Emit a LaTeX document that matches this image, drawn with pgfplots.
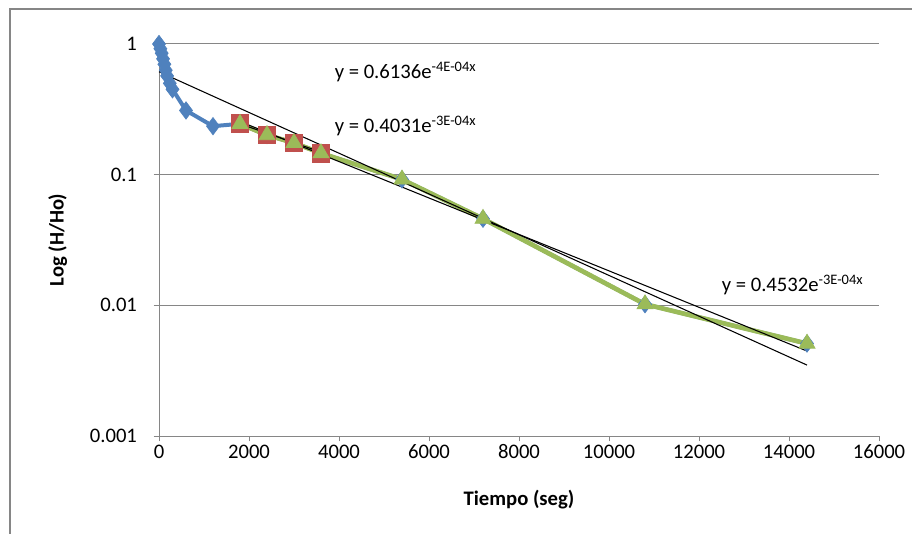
\documentclass[border=0pt]{standalone}
\usepackage{fontspec}
\setmainfont{Carlito}
\usepackage{pgfplots}
\pgfplotsset{compat=1.18}
\definecolor{xlblue}{RGB}{79,129,189}
\definecolor{xlred}{RGB}{192,80,77}
\definecolor{xlgreen}{RGB}{155,187,89}
\definecolor{axgray}{RGB}{134,134,134}
\begin{document}
\begin{tikzpicture}
\useasboundingbox (-119.25pt,-73.5pt) rectangle (564.75pt,327pt);
\draw[axgray, line width=0.9pt] (-111.75pt,-90pt) -- (-111.75pt,320.25pt) -- (600pt,320.25pt);
\begin{axis}[
  at={(0pt,0pt)}, anchor=south west,
  scale only axis, width=540pt, height=294pt,
  xmin=0, xmax=16000, ymode=log, ymin=0.001, ymax=1,
  axis x line*=bottom, axis y line*=left,
  axis line style={draw=axgray, line width=0.75pt, -},
  xtick={0,2000,...,16000},
  ytick={0.001,0.01,0.1,1}, yticklabels={0.001,0.01,0.1,1},
  yminorticks=false,
  ymajorgrids, grid style={axgray, line width=0.75pt},
  scaled x ticks=false,
  /pgf/number format/assume math mode=true,
  /pgf/number format/1000 sep={},
  tick label style={font=\fontsize{15.5}{18}\selectfont},
  tick align=outside, major tick length=4pt,
  tick style={axgray, line width=0.75pt},
  yticklabel style={xshift=-9pt},
  xticklabel style={yshift=1pt},
  xlabel={\textbf{Tiempo (seg)}}, ylabel={\textbf{Log (H/Ho)}},
  label style={font=\fontsize{15.5}{18}\selectfont},
  xlabel style={at={(axis description cs:0.5,0)}, anchor=center, yshift=-48pt},
  ylabel style={at={(axis description cs:0,0.5)}, anchor=center, yshift=76pt},
  clip=false,
]
\addplot[xlblue, line width=3pt, mark=diamond*, mark size=6.5pt, mark options={fill=xlblue, draw=xlblue, line width=0.5pt}] coordinates {
(0,1) (30,0.92) (60,0.85) (90,0.77) (120,0.70) (150,0.63) (180,0.57) (240,0.50) (300,0.45)
(600,0.31) (1200,0.235) (1800,0.245) (2400,0.201) (3000,0.175) (3600,0.146)
(5400,0.092) (7200,0.046) (10800,0.0102) (14400,0.0051)};
\addplot[xlred, line width=3pt, mark=square*, mark size=5.5pt, mark options={fill=xlred, draw=xlred}] coordinates {
(1800,0.245) (2400,0.201) (3000,0.175) (3600,0.146)};
\addplot[xlgreen, line width=3.5pt, mark=triangle*, mark size=7pt, mark options={fill=xlgreen, draw=xlgreen, line width=0.5pt}] coordinates {
(1800,0.245) (2400,0.201) (3000,0.175) (3600,0.146)
(5400,0.092) (7200,0.046) (10800,0.0102) (14400,0.0051)};
% trendlines (exponential fits are straight on a log axis: endpoints only)
\addplot[black, line width=0.8pt] coordinates {(0,0.6136) (14400,0.00349)};
\addplot[black, line width=0.8pt] coordinates {(1800,0.2449) (3600,0.1488)};
\addplot[black, line width=0.8pt] coordinates {(1800,0.2553) (14400,0.00447)};
\node[anchor=west, inner sep=0pt, font=\fontsize{15.5}{18}\selectfont] at (axis cs:3900,0.61) {y = 0.6136e\textsuperscript{-4E-04x}};
\node[anchor=west, inner sep=0pt, font=\fontsize{15.5}{18}\selectfont] at (axis cs:3900,0.236) {y = 0.4031e\textsuperscript{-3E-04x}};
\node[anchor=west, inner sep=0pt, font=\fontsize{15.5}{18}\selectfont] at (axis cs:12500,0.0143) {y = 0.4532e\textsuperscript{-3E-04x}};
\end{axis}
\end{tikzpicture}
\end{document}
